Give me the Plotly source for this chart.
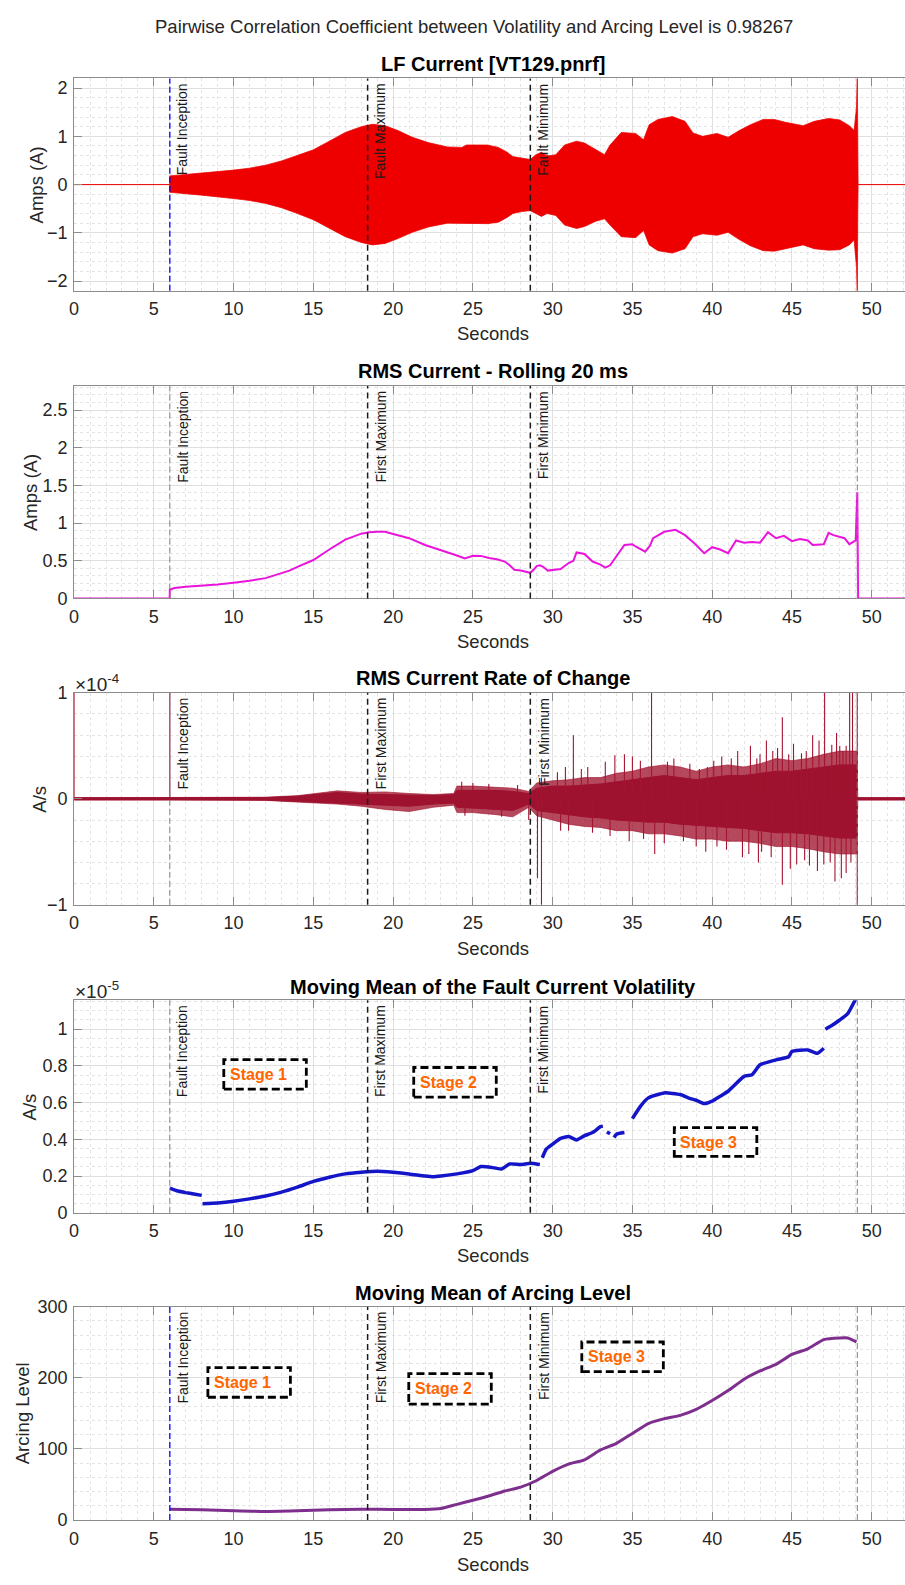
import plotly.graph_objects as go

# ---------------- data ----------------
XMAX = 52.09
event_t = [6.0, 18.4, 28.6, 49.1]
labels_lf = ["Fault Inception", "Fault Maximum", "Fault Minimum"]
labels_std = ["Fault Inception", "First Maximum", "First Minimum"]

# LF current envelope (A)
lf_t = [0, 5.99, 6.0, 7, 8, 9, 10, 11, 12, 13,
        14, 15, 16, 17, 18, 18.7, 19.5, 20.3, 21.2, 22.2,
        23.4, 24.3, 24.6, 25.9, 26.6, 27.15, 27.5, 28.05, 28.6, 28.95,
        29.3, 29.65, 30.2, 30.75, 31.5, 32.0, 32.7, 33.25, 33.6, 34.3,
        35.2, 35.7, 36.05, 36.6, 37.5, 38.3, 38.8, 39.4, 40.3, 41.0,
        41.7, 42.4, 43.2, 43.9, 44.6, 45.7, 46.4, 47.3, 48.0, 48.6,
        48.9, 49.05, 49.1, 49.13, 49.15, 52.09]
lf_up = [0, 0, 0.18, 0.21, 0.23, 0.26, 0.3, 0.34, 0.4, 0.49,
         0.6, 0.72, 0.9, 1.08, 1.2, 1.25, 1.22, 1.12, 0.98, 0.87,
         0.78, 0.77, 0.82, 0.82, 0.77, 0.67, 0.58, 0.55, 0.52, 0.62,
         0.67, 0.59, 0.62, 0.82, 0.9, 0.86, 0.73, 0.62, 0.82, 1.08,
         1.06, 0.93, 1.24, 1.35, 1.41, 1.31, 1.07, 1.0, 1.06, 0.98,
         1.12, 1.24, 1.35, 1.35, 1.29, 1.22, 1.31, 1.37, 1.34, 1.22,
         1.12, 1.6, 2.3, 0.6, 0, 0]
lf_lo = [0, 0, -0.16, -0.19, -0.22, -0.25, -0.29, -0.33, -0.39, -0.48,
         -0.6, -0.73, -0.9, -1.08, -1.2, -1.25, -1.22, -1.12, -0.99, -0.88,
         -0.8, -0.81, -0.8, -0.81, -0.78, -0.68, -0.6, -0.56, -0.54, -0.6,
         -0.66, -0.6, -0.64, -0.84, -0.91, -0.87, -0.76, -0.71, -0.84, -1.08,
         -1.1, -0.95, -1.25, -1.37, -1.42, -1.33, -1.08, -1.02, -1.05, -0.99,
         -1.14, -1.27, -1.37, -1.38, -1.33, -1.25, -1.33, -1.36, -1.35, -1.25,
         -1.15, -1.7, -2.3, -0.6, 0, 0]

# RMS current (A)
rms_t = [0, 5.99, 6.0, 6.3, 7, 8, 9, 10, 11, 12,
         13, 13.5, 14, 15, 16, 17, 18, 18.5, 19, 19.5,
         20, 21, 22, 23, 24, 24.5, 24.8, 25, 25.5, 26,
         26.5, 27, 27.3, 27.6, 28.0, 28.3, 28.6, 28.8, 29, 29.2,
         29.4, 29.7, 30.0, 30.5, 31, 31.3, 31.5, 32, 32.5, 33,
         33.3, 33.6, 34, 34.5, 35, 35.2, 35.8, 36.1, 36.3, 37,
         37.7, 38.3, 38.9, 39.5, 40, 40.5, 41, 41.5, 42, 42.5,
         43, 43.5, 44, 44.5, 45, 45.5, 46, 46.3, 47, 47.3,
         47.6, 48, 48.3, 48.6, 49.0, 49.1, 49.15, 52.09]
rms_v = [0, 0, 0.12, 0.14, 0.155, 0.166, 0.185, 0.21, 0.235, 0.27,
         0.33, 0.37, 0.42, 0.51, 0.65, 0.78, 0.86, 0.88, 0.886, 0.885,
         0.855, 0.80, 0.71, 0.645, 0.57, 0.53, 0.55, 0.567, 0.565, 0.537,
         0.52, 0.49, 0.44, 0.38, 0.37, 0.36, 0.34, 0.38, 0.43, 0.44,
         0.42, 0.37, 0.38, 0.39, 0.47, 0.5, 0.61, 0.59, 0.49, 0.45,
         0.41, 0.44, 0.56, 0.71, 0.72, 0.69, 0.62, 0.70, 0.80, 0.885,
         0.91, 0.84, 0.73, 0.60, 0.68, 0.65, 0.60, 0.77, 0.74, 0.75,
         0.74, 0.88, 0.80, 0.83, 0.76, 0.79, 0.77, 0.71, 0.72, 0.87,
         0.84, 0.82, 0.80, 0.72, 0.77, 1.41, 0, 0]

# RMS rate of change (x1e-4 A/s): dense core, fringe, individual spikes
roc_t = [0, 6.0, 12, 14, 15, 16.5, 18, 19.5, 21, 22.5,
         23.8, 24.0, 25, 26.5, 27.5, 28.5, 29.0, 30, 31, 32,
         33, 34, 35, 36, 37, 38, 39, 40, 41, 42,
         43, 44, 45, 46, 47, 48, 49.1, 49.12, 52.09]
core_up = [0.01, 0.01, 0.012, 0.025, 0.04, 0.06, 0.045, 0.04, 0.035, 0.03,
           0.04, 0.08, 0.08, 0.08, 0.07, 0.05, 0.1, 0.12, 0.12, 0.13,
           0.14, 0.16, 0.18, 0.2, 0.22, 0.2, 0.18, 0.2, 0.22, 0.22,
           0.24, 0.26, 0.26, 0.28, 0.3, 0.32, 0.32, 0.01, 0.01]
core_lo = [-0.01, -0.01, -0.012, -0.025, -0.035, -0.04, -0.05, -0.06, -0.07, -0.05,
           -0.04, -0.08, -0.09, -0.1, -0.11, -0.05, -0.11, -0.13, -0.15, -0.17,
           -0.18, -0.2, -0.21, -0.22, -0.22, -0.24, -0.25, -0.26, -0.27, -0.28,
           -0.3, -0.32, -0.32, -0.33, -0.35, -0.37, -0.37, -0.01, -0.01]
fringe_up = [0.01, 0.01, 0.015, 0.03, 0.05, 0.075, 0.06, 0.065, 0.05, 0.04,
             0.05, 0.12, 0.12, 0.11, 0.1, 0.07, 0.15, 0.17, 0.18, 0.2,
             0.2, 0.24, 0.26, 0.3, 0.32, 0.3, 0.26, 0.3, 0.32, 0.3,
             0.33, 0.38, 0.36, 0.38, 0.42, 0.45, 0.45, 0.01, 0.01]
fringe_lo = [-0.01, -0.01, -0.015, -0.03, -0.04, -0.05, -0.07, -0.1, -0.12, -0.08,
             -0.06, -0.13, -0.13, -0.15, -0.17, -0.08, -0.16, -0.2, -0.24, -0.26,
             -0.27, -0.3, -0.3, -0.33, -0.33, -0.35, -0.38, -0.38, -0.4, -0.4,
             -0.42, -0.45, -0.45, -0.47, -0.5, -0.52, -0.52, -0.01, -0.01]
spike_t = [0.0, 6.0, 24.3, 25.0, 26.0, 27.8, 29.3, 30.3, 30.8, 31.3,
           31.8, 32.2, 33.3, 33.9, 34.5, 35.0, 35.5, 36.2, 37.2, 37.6,
           38.6, 39.2, 39.7, 40.1, 40.6, 41.2, 41.6, 42.4, 42.8, 43.0,
           43.4, 43.8, 44.1, 44.4, 44.8, 45.1, 45.6, 45.9, 46.3, 46.7,
           47.05, 47.5, 47.8, 48.0, 48.2, 48.4, 48.62, 48.8, 49.1,
           24.5, 26.8, 28.5, 29.05, 29.3, 30.5, 31.0, 32.5, 33.6, 34.8,
           35.7, 36.4, 37.0, 38.2, 39.0, 39.6, 40.3, 40.9, 41.9, 42.3,
           42.9, 43.1, 43.7, 44.4, 44.9, 45.3, 45.8, 46.1, 46.6, 47.0,
           47.4, 47.7, 48.1, 48.4, 48.7, 49.1]
spike_v = [1.2, 1.2, 0.16, 0.15, 0.14, 0.13, 0.2, 0.25, 0.3, 0.6,
           0.28, 0.3, 0.35, 0.41, 0.42, 0.4, 0.36, 1.2, 0.35, 0.38,
           0.33, 0.28, 0.3, 0.36, 0.4, 0.38, 0.45, 0.5, 0.38, 0.42,
           0.55, 0.45, 0.48, 0.77, 0.42, 0.52, 0.43, 0.45, 0.6, 0.55,
           1.2, 0.51, 0.62, 0.5, 0.45, 0.5, 1.2, 1.2, 1.2,
           -0.16, -0.17, -0.2, -0.75, -1.2, -0.3, -0.3, -0.32, -0.35, -0.4,
           -0.38, -0.52, -0.42, -0.4, -0.45, -0.5, -0.45, -0.48, -0.55, -0.52,
           -0.6, -0.5, -0.55, -0.81, -0.66, -0.62, -0.58, -0.63, -0.68, -0.62,
           -0.6, -0.78, -0.75, -0.7, -0.6, -1.2]

# Moving mean of volatility (x1e-5 A/s), None = gap
vol_t = [6.0, 6.5, 7, 7.5, 8.0, None,
         8.05, 9, 10, 11, 12, 13, 14, 15, 16, 17, 18, 19, 20, 21, 22, 22.5, 23, 24, 25, 25.5,
         26, 26.8, 27.3, 28, 28.6, 29.2, None,
         29.35, 29.6, 30, 30.5, 31, 31.5, 32, 32.5, 33, 33.15, None,
         33.4, 33.6, None,
         33.85, 34, 34.5, None,
         35, 35.5, 36, 37, 38, 38.5, 39, 39.5, 40, 40.5, 41, 42, 42.5, 43, 44, 44.8, 45, 46,
         46.6, 47.0, None,
         47.1, 47.5, 48, 48.5, 49.0]
vol_v = [0.135, 0.119, 0.11, 0.103, 0.095, None,
         0.05, 0.054, 0.063, 0.076, 0.092, 0.113, 0.14, 0.171, 0.194, 0.212, 0.221, 0.227, 0.221,
         0.212, 0.2, 0.196, 0.2, 0.212, 0.23, 0.252, 0.25, 0.239, 0.266, 0.263, 0.27, 0.263, None,
         0.30, 0.347, 0.374, 0.405, 0.415, 0.397, 0.42, 0.437, 0.469, 0.472, None,
         0.44, 0.43, None,
         0.41, 0.428, 0.437, None,
         0.513, 0.58, 0.626, 0.653, 0.644, 0.626, 0.613, 0.595, 0.608, 0.635, 0.662, 0.743, 0.752,
         0.806, 0.833, 0.85, 0.878, 0.887, 0.869, 0.896, None,
         1.0, 1.02, 1.05, 1.085, 1.165]

# Moving mean of arcing level
arc_t = [6.0, 8, 10, 12, 14, 16, 18, 20, 22, 23,
         24, 25, 26, 27, 28, 29, 30, 31, 32, 33,
         34, 35, 36, 37, 38, 39, 40, 41, 42, 43,
         44, 45, 46, 47, 48, 48.5, 49.05]
arc_v = [15.3, 14.4, 13, 12, 13, 14.4, 15.3, 14.8, 14.8, 16.2,
         22, 27.8, 33.8, 40.7, 46.3, 55.6, 68.5, 78.7, 84.7, 98.6,
         107.9, 121.8, 135.7, 142.6, 147.2, 155.6, 168, 182, 198, 209.7,
         219, 232.9, 240.8, 253.7, 256, 256, 250.5]

for a, b in [(lf_t, lf_up), (lf_t, lf_lo), (rms_t, rms_v), (roc_t, core_up), (roc_t, core_lo),
             (roc_t, fringe_up), (roc_t, fringe_lo), (spike_t, spike_v), (vol_t, vol_v),
             (arc_t, arc_v)]:
    assert len(a) == len(b), (len(a), len(b))

titles = ["LF Current [VT129.pnrf]", "RMS Current - Rolling 20 ms", "RMS Current Rate of Change",
          "Moving Mean of the Fault Current Volatility", "Moving Mean of Arcing Level"]
ylabels = ["Amps (A)", "Amps (A)", "A/s", "A/s", "Arcing Level"]
suptitle = "Pairwise Correlation Coefficient between Volatility and Arcing Level is 0.98267"

# ---------------- layout geometry (pixels) ----------------
W, H = 905, 1585
FONT = "Liberation Sans, Arial, Helvetica, sans-serif"
TXT = "#262626"
AXC = "#8c8c8c"
GRID = "#dfdfdf"
MINOR = "#e4e4e4"
L = 69.5
plot_px = [(69.3, 284.3), (380.7, 596.0), (691.5, 906.3), (1003.0, 1218.2), (1313.3, 1529.3)]
title_y = [55, 366, 677, 989, 1299]
xlab_y = [328, 640, 950, 1261, 1574]
ylab_x = [32, 25, 35, 25, 17]
yranges = [[-2.2, 2.2], [0, 2.82], [-1, 1], [0, 1.157], [0, 300]]
ydticks = [1, 0.5, 1, 0.2, 100]
yminor = [0.2, 0.1, 0.2, 0.05, 20]
TITLE_CX = 491


def px(xp):
    return xp / W


def py(yp):
    return 1 - yp / H


fig = go.Figure()

# Panel 1: LF current envelope
fig.add_trace(go.Scatter(x=lf_t + lf_t[::-1], y=lf_up + lf_lo[::-1], fill="toself",
                         fillcolor="#ee0000", mode="lines",
                         line=dict(color="rgba(238,0,0,0.75)", width=1),
                         xaxis="x", yaxis="y", hoverinfo="skip"))
# Panel 2: RMS
fig.add_trace(go.Scatter(x=rms_t, y=rms_v, mode="lines", line=dict(color="#ea14dc", width=2),
                         xaxis="x2", yaxis="y2"))
# Panel 3: rate of change
fig.add_trace(go.Scatter(x=roc_t + roc_t[::-1], y=fringe_up + fringe_lo[::-1], fill="toself",
                         fillcolor="rgba(162,20,47,0.78)", mode="lines",
                         line=dict(color="rgba(162,20,47,0.8)", width=0.8),
                         xaxis="x3", yaxis="y3", hoverinfo="skip"))
fig.add_trace(go.Scatter(x=roc_t + roc_t[::-1], y=core_up + core_lo[::-1], fill="toself",
                         fillcolor="#9e1230", mode="lines", line=dict(color="#9e1230", width=1),
                         xaxis="x3", yaxis="y3", hoverinfo="skip"))
sx, sy = [], []
for t, v in zip(spike_t, spike_v):
    sx += [t, t, None]
    sy += [0, v, None]
fig.add_trace(go.Scatter(x=sx, y=sy, mode="lines", line=dict(color="#a2142f", width=1.1),
                         xaxis="x3", yaxis="y3"))
# Panel 4: volatility
fig.add_trace(go.Scatter(x=vol_t, y=vol_v, mode="lines",
                         line=dict(color="#1414c8", width=3.5, shape="spline", smoothing=0.5),
                         connectgaps=False, xaxis="x4", yaxis="y4"))
# Panel 5: arcing level
fig.add_trace(go.Scatter(x=arc_t, y=arc_v, mode="lines",
                         line=dict(color="#7e2f8e", width=3, shape="spline", smoothing=0.5),
                         xaxis="x5", yaxis="y5"))

layout = dict(width=W, height=H, margin=dict(l=0, r=0, t=0, b=0),
              paper_bgcolor="white", plot_bgcolor="white", showlegend=False,
              font=dict(family=FONT, color=TXT, size=18))

annotations = []
shapes = []
for i in range(5):
    n = "" if i == 0 else str(i + 1)
    top, bot = plot_px[i]
    layout["xaxis" + n] = dict(
        domain=[px(L), 1.0], range=[0, XMAX], anchor="y" + n,
        tickmode="linear", tick0=0, dtick=5,
        ticks="inside", ticklen=8, tickcolor=AXC, tickwidth=1,
        showline=True, linecolor=AXC, linewidth=1, mirror="ticks",
        showgrid=True, gridcolor=GRID, gridwidth=1, zeroline=False,
        minor=dict(dtick=1, tick0=0, showgrid=True, gridcolor=MINOR, griddash="dot", gridwidth=1),
        tickfont=dict(size=18, color=TXT), ticklabelstandoff=2, fixedrange=True)
    layout["yaxis" + n] = dict(
        domain=[py(bot), py(top)], range=yranges[i], anchor="x" + n,
        tickmode="linear", tick0=0, dtick=ydticks[i],
        ticks="inside", ticklen=8, tickcolor=AXC, tickwidth=1,
        showline=True, linecolor=AXC, linewidth=1, mirror=False,
        showgrid=True, gridcolor=GRID, gridwidth=1, zeroline=False,
        minor=dict(dtick=yminor[i], tick0=0, showgrid=True, gridcolor=MINOR, griddash="dot", gridwidth=1),
        tickfont=dict(size=18, color=TXT), ticklabelstandoff=2, fixedrange=True)

    # title, axis labels
    annotations.append(dict(x=px(TITLE_CX), y=py(title_y[i]), xref="paper", yref="paper",
                            text="<b>" + titles[i] + "</b>", showarrow=False,
                            xanchor="center", yanchor="middle", font=dict(size=20, color="#000")))
    annotations.append(dict(x=px(TITLE_CX), y=py(xlab_y[i]), xref="paper", yref="paper",
                            text="Seconds", showarrow=False, xanchor="center", yanchor="middle",
                            font=dict(size=18.5, color=TXT)))
    annotations.append(dict(x=px(ylab_x[i]), y=py((top + bot) / 2), xref="paper", yref="paper",
                            text=ylabels[i], showarrow=False, textangle=-90,
                            xanchor="center", yanchor="middle", font=dict(size=18.5, color=TXT)))

    # event lines
    xr, yd = "x" + n, "y" + n + " domain"
    blue = i in (0, 4)
    shapes.append(dict(type="line", xref=xr, yref=yd, x0=event_t[0], x1=event_t[0], y0=0, y1=1,
                       line=dict(color="#0000ff" if blue else "#808080", width=1.3 if blue else 1,
                                 dash="6px,3px"), layer="above"))
    for j in (1, 2):
        shapes.append(dict(type="line", xref=xr, yref=yd, x0=event_t[j], x1=event_t[j], y0=0, y1=1,
                           line=dict(color="#1a1a1a", width=1.5, dash="6px,4px"), layer="above"))
    if i > 0:
        shapes.append(dict(type="line", xref=xr, yref=yd, x0=event_t[3], x1=event_t[3], y0=0, y1=1,
                           line=dict(color="#808080", width=1, dash="6px,3px"), layer="above"))
    labs = labels_lf if i == 0 else labels_std
    for j in range(3):
        annotations.append(dict(x=event_t[j], y=1, xref=xr, yref=yd, text=labs[j], showarrow=False,
                                textangle=-90, xanchor="left", yanchor="top", xshift=3, yshift=-3,
                                font=dict(size=14, color="#1a1a1a")))

# exponent labels
for (ey, ex) in [(682, "-4"), (993, "-5")]:
    annotations.append(dict(x=px(68), y=py(ey), xref="paper", yref="paper",
                            text="\u00d710<sup>" + ex + "</sup>", showarrow=False, xanchor="left",
                            yanchor="middle", font=dict(size=19, color=TXT)))

# suptitle
annotations.append(dict(x=px(472), y=py(17), xref="paper", yref="paper", text=suptitle,
                        showarrow=False, xanchor="center", yanchor="middle",
                        font=dict(size=18.5, color=TXT)))

# stage boxes (pixel boxes: x0, x1, y0, y1)
stage_boxes = [("Stage 1", 220, 303, 1063, 1093), ("Stage 2", 411, 494, 1071, 1101),
               ("Stage 3", 673, 756, 1132, 1161),
               ("Stage 1", 204, 287, 1375, 1405), ("Stage 2", 406, 489, 1381, 1412),
               ("Stage 3", 580, 662, 1349, 1379)]
for txt, x0, x1, y0, y1 in stage_boxes:
    shapes.append(dict(type="rect", xref="paper", yref="paper", x0=px(x0), x1=px(x1),
                       y0=py(y1), y1=py(y0), line=dict(color="#000", width=2.8, dash="8px,4px"),
                       fillcolor="rgba(0,0,0,0)", layer="above"))
    annotations.append(dict(x=px(x0 + 4), y=py((y0 + y1) / 2), xref="paper", yref="paper",
                            text="<b>" + txt + "</b>", showarrow=False, xanchor="left",
                            yanchor="middle", font=dict(size=16, color="#ff6600")))

layout["annotations"] = annotations
layout["shapes"] = shapes
fig.update_layout(**layout)
fig.write_html("out.html")
